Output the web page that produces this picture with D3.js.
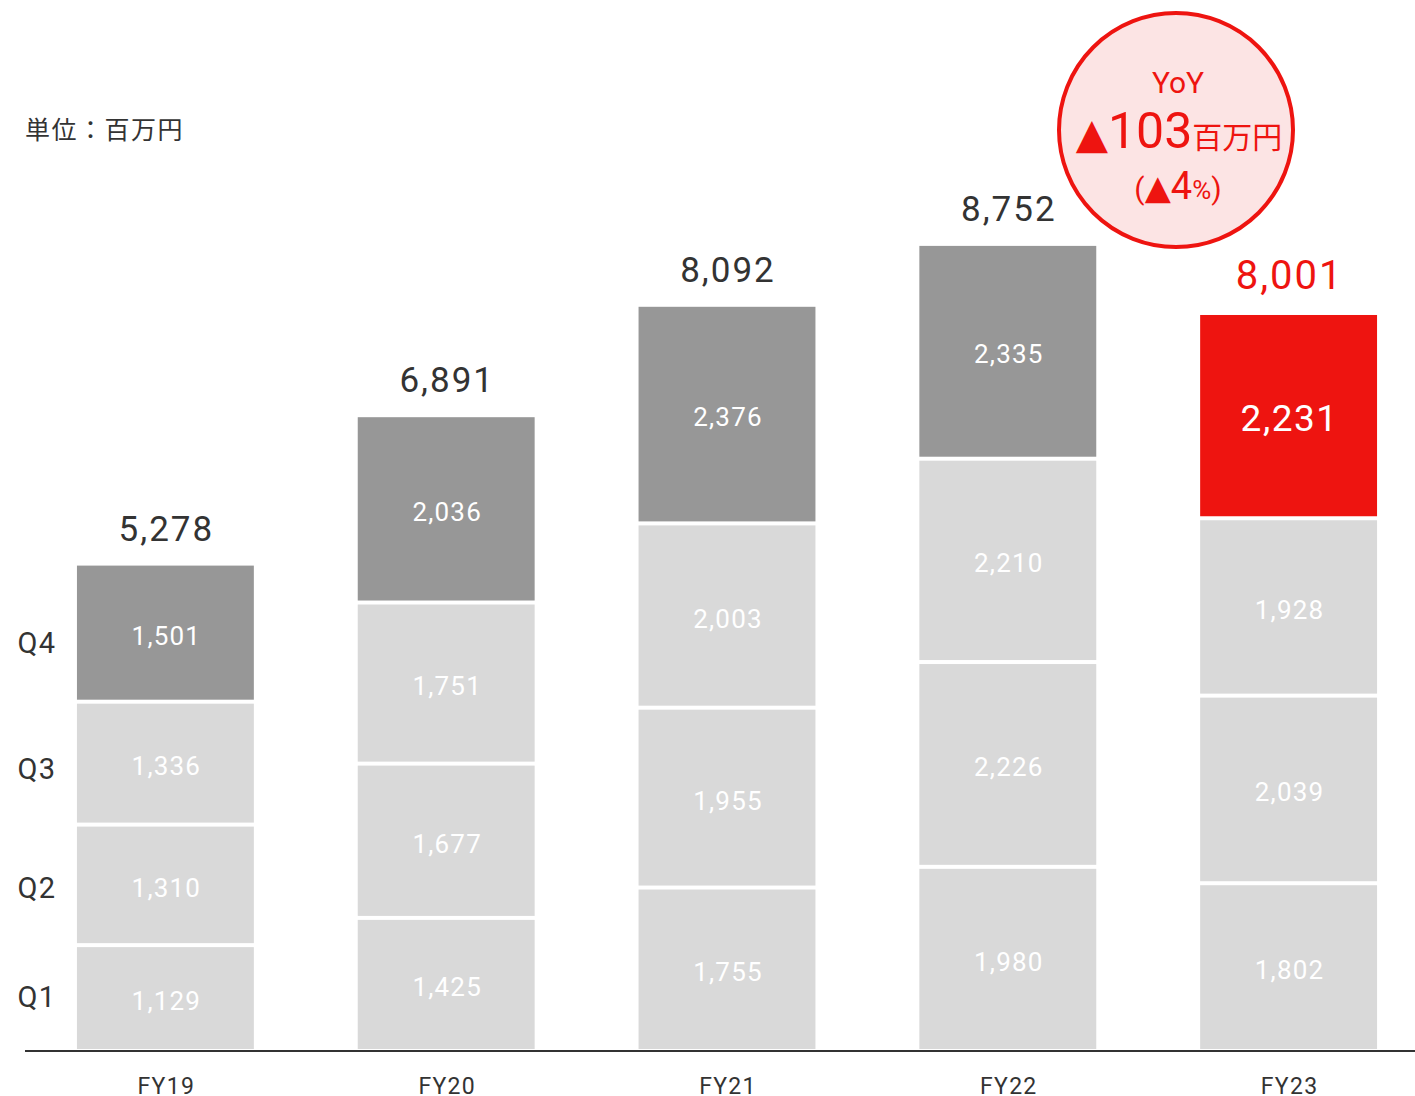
<!DOCTYPE html>
<html><head><meta charset="utf-8">
<script src="https://cdn.jsdelivr.net/npm/d3@7"></script>
<style>body{margin:0;background:#fff;} svg{display:block;font-family:Roboto,"Noto Sans CJK JP",sans-serif;}</style>
</head><body>
<script>
const categories = ["FY19","FY20","FY21","FY22","FY23"];
const quarters = ["Q1","Q2","Q3","Q4"];
const q1 = [1129,1425,1755,1980,1802];
const q2 = [1310,1677,1955,2226,2039];
const q3 = [1336,1751,2003,2210,1928];
const q4 = [1501,2036,2376,2335,2231];
const totals = [5278,6891,8092,8752,8001];
const unitLabel = "単位：百万円";
const yoyAmount = "103";
const yoyPct = "4";

const W = 1415, H = 1096;
const svg = d3.select("body").append("svg").attr("width", W).attr("height", H);

const x = d3.scaleBand().domain(categories).range([25, 1429]).paddingInner(0.37).paddingOuter(0.185);
const y = d3.scaleLinear().domain([0, 11402]).range([1049, 0]);
const series = [q1, q2, q3, q4];
const fmt = d3.format(",");

const lightC = "#d9d9d9", darkC = "#979797", redC = "#ee1410";

categories.forEach((c, i) => {
  let cum = 0;
  series.forEach((s, qi) => {
    const v = s[i];
    const y0 = y(cum), y1 = y(cum + v);
    cum += v;
    const top = y1 + 2, bottom = qi === 0 ? y0 : y0 - 2;
    const isLast = qi === 3;
    const fill = isLast ? (i === 4 ? redC : darkC) : lightC;
    svg.append("rect").attr("x", x(c)).attr("y", top).attr("width", x.bandwidth())
      .attr("height", bottom - top).attr("fill", fill);
    const big = isLast && i === 4;
    svg.append("text").attr("x", x(c) + x.bandwidth() / 2 + 1).attr("y", (top + bottom) / 2 + 3)
      .attr("text-anchor", "middle").attr("dominant-baseline", "central")
      .attr("letter-spacing", big ? 1.5 : 1.2)
      .attr("font-size", big ? 37 : 26).attr("fill", "#fff").text(fmt(v));
  });
  const last = i === 4;
  svg.append("text").attr("x", x(c) + x.bandwidth() / 2 + 1)
    .attr("y", y(cum) - (last ? 24 : 23))
    .attr("text-anchor", "middle").attr("font-size", last ? 40 : 35)
    .attr("letter-spacing", 2)
    .attr("fill", last ? redC : "#333").text(fmt(totals[i]));
  svg.append("text").attr("x", x(c) + x.bandwidth() / 2 + 1).attr("y", 1094)
    .attr("text-anchor", "middle").attr("font-size", 23).attr("letter-spacing", 1.3)
    .attr("fill", "#333").text(c);
});

// quarter labels aligned with FY19 segments
let cum0 = 0;
const qOffsets = [0, 3, 6, 10];
quarters.forEach((q, qi) => {
  const v = series[qi][0];
  const mid = (y(cum0) + y(cum0 + v)) / 2;
  cum0 += v;
  svg.append("text").attr("x", 37).attr("y", mid + qOffsets[qi]).attr("text-anchor", "middle")
    .attr("dominant-baseline", "central").attr("font-size", 29).attr("letter-spacing", 1.5)
    .attr("fill", "#333").text(q);
});

// axis line
svg.append("line").attr("x1", 25).attr("x2", 1415).attr("y1", 1051).attr("y2", 1051)
  .attr("stroke", "#333").attr("stroke-width", 2);

// unit label
svg.append("text").attr("x", 25).attr("y", 139).attr("font-size", 25).attr("letter-spacing", 1.5)
  .attr("fill", "#333").attr("font-family", "'Noto Sans CJK JP',sans-serif").text(unitLabel);

// YoY circle
const cx = 1176, cy = 130;
svg.append("circle").attr("cx", cx).attr("cy", cy).attr("r", 117)
  .attr("fill", "#fce4e4").attr("stroke", redC).attr("stroke-width", 4);
svg.append("text").attr("x", cx + 2).attr("y", 93).attr("text-anchor", "middle")
  .attr("font-size", 30).attr("fill", redC).text("YoY");
const t2 = svg.append("text").attr("x", cx + 3).attr("y", 148).attr("text-anchor", "middle").attr("fill", redC);
t2.append("tspan").attr("font-size", 42).attr("font-family", "'DejaVu Sans',sans-serif").text("▲");
t2.append("tspan").attr("font-size", 50).text(yoyAmount);
t2.append("tspan").attr("font-size", 30).attr("font-family", "'Noto Sans CJK JP',sans-serif").text("百万円");
const t3 = svg.append("text").attr("x", cx + 2).attr("y", 199).attr("text-anchor", "middle").attr("fill", redC);
t3.append("tspan").attr("font-size", 30).text("(");
t3.append("tspan").attr("font-size", 34).attr("font-family", "'DejaVu Sans',sans-serif").text("▲");
t3.append("tspan").attr("font-size", 38).text(yoyPct);
t3.append("tspan").attr("font-size", 26).text("%");
t3.append("tspan").attr("font-size", 30).text(")");
</script>
</body></html>
